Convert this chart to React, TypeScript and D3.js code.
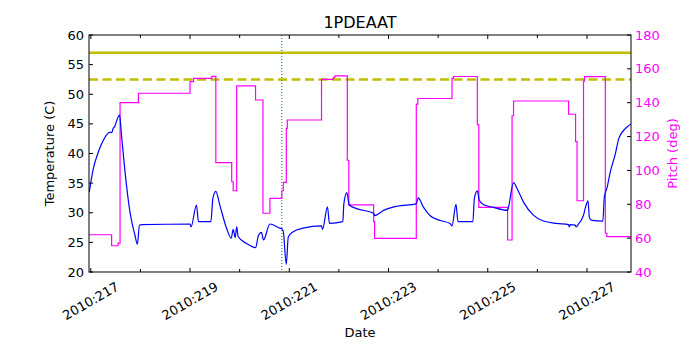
import React from "react";
import * as d3 from "d3";

////////////////////
//// Data

const TITLE = "1PDEAAT";
const TEMP_LIMITS = [57, 52.5]; // planning limit (solid), caution (dashed)
const EVENT_DAY = 220.85;

const X_TICK_DAYS = [217, 218, 219, 220, 221, 222, 223, 224, 225, 226, 227];
const TEMP_TICKS = [20, 25, 30, 35, 40, 45, 50, 55, 60];
const PITCH_TICKS = [40, 60, 80, 100, 120, 140, 160, 180];

// 1PDEAAT temperature (C) vs day of year
const tempDays = [
  216.97, 217.05, 217.15, 217.25, 217.39, 217.42, 217.45, 217.49, 217.52, 217.58,
  217.62, 217.69, 217.79, 217.89, 217.94, 217.98, 218.03, 219.0, 219.02, 219.13,
  219.17, 219.42, 219.46, 219.52, 219.6, 219.74, 219.83, 219.87, 219.91, 219.94,
  219.97, 220.14, 220.32, 220.38, 220.44, 220.48, 220.61, 220.81, 220.85, 220.88,
  220.94, 220.98, 221.08, 221.28, 221.65, 221.67, 221.77, 221.81, 222.08, 222.1,
  222.16, 222.21, 222.36, 222.7, 222.72, 222.9, 223.17, 223.56, 223.6, 223.7,
  223.84, 224.04, 224.24, 224.28, 224.36, 224.4, 224.7, 224.73, 224.79, 224.83,
  224.91, 225.12, 225.4, 225.42, 225.52, 225.59, 225.72, 225.92, 226.12, 226.39,
  226.63, 226.64, 226.66, 226.76, 226.78, 226.83, 226.9, 226.93, 226.96, 227.02,
  227.05, 227.1, 227.32, 227.35, 227.4, 227.47, 227.57, 227.64, 227.74, 227.84,
  227.887,
];
const tempValues = [
  33.5, 37.4, 40.2, 42.2, 43.6, 43.5, 44.2, 44.7, 45.5, 46.5,
  43.0, 36.9, 30.1, 26.2, 24.7, 27.9, 28.0, 28.1, 27.6, 31.3,
  28.5, 28.5, 32.4, 33.6, 31.3, 27.3, 25.7, 27.2, 25.8, 27.6,
  26.0, 24.8, 24.1, 26.2, 26.7, 25.4, 28.1, 27.4, 27.3, 26.8,
  21.3, 25.9, 26.8, 27.4, 27.8, 27.2, 31.0, 28.2, 28.5, 31.5,
  33.4, 31.3, 30.7, 29.9, 29.5, 30.4, 31.1, 31.5, 32.5, 31.0,
  29.5, 28.7, 28.2, 27.8, 31.4, 28.5, 28.5, 32.4, 33.7, 32.1,
  31.4, 30.9, 30.4, 31.0, 35.1, 34.1, 31.8, 29.6, 28.6, 28.2,
  28.0, 27.6, 28.0, 27.9, 27.6, 28.1, 29.0, 29.6, 30.6, 32.0,
  29.1, 28.7, 28.6, 32.7, 34.1, 36.9, 39.9, 42.5, 43.9, 44.7,
  45.0,
];

// pitch (deg), held until the next change
const pitchDays = [
  216.964, 217.42, 217.55, 217.59, 217.96, 219.0, 219.07, 219.44, 219.52, 219.84,
  219.87, 219.94, 220.32, 220.47, 220.61, 220.85, 220.88, 220.94, 220.96, 221.65,
  221.89, 221.92, 222.17, 222.2, 222.7, 222.72, 223.56, 223.59, 224.28, 224.31,
  224.79, 224.82, 225.4, 225.49, 225.52, 226.63, 226.77, 226.8, 226.93, 226.95,
  227.37, 227.4, 227.887,
];
const pitchValues = [
  62, 55.5, 57, 140, 145.6, 152.4, 154.4, 155.6, 104.6, 93.3,
  88, 150, 141.6, 74.7, 83.5, 88, 93, 124.9, 129.8, 153.8,
  155, 155.8, 106, 79.6, 69.7, 59.9, 139.2, 142.5, 154.4, 155.5,
  127, 78.2, 58.9, 132.3, 141, 133.2, 117, 82.1, 152.8, 155.4,
  62.9, 60.9, 60.9,
];

////////////////////
//// Chart

const W = 700;
const H = 350;
const plot = { left: 89, right: 631, top: 35, bottom: 272 };
const FONT = "DejaVu Sans, sans-serif";

export default function App() {
  const x = d3.scaleLinear().domain([216.964, 227.887]).range([plot.left, plot.right]);
  const yT = d3.scaleLinear().domain([20, 60]).range([plot.bottom, plot.top]);
  const yP = d3.scaleLinear().domain([40, 180]).range([plot.bottom, plot.top]);

  const tempLine = d3.line<number>()
    .x((d, i) => x(tempDays[i]))
    .y(d => yT(d))
    .curve(d3.curveMonotoneX);

  const pitchLine = d3.line<number>()
    .x((d, i) => x(pitchDays[i]))
    .y(d => yP(d))
    .curve(d3.curveStepAfter);

  const fmtDay = (d: number) => `2010:${d3.format("03d")(d)}`;
  const cx = (plot.left + plot.right) / 2;
  const cy = (plot.top + plot.bottom) / 2;

  return (
    <svg width={W} height={H} style={{ position: "absolute", left: 0, top: 0, background: "#fff" }} fontFamily={FONT}>
      <rect x={0} y={0} width={W} height={H} fill="#fff" />
      <defs>
        <clipPath id="plotclip">
          <rect x={plot.left} y={plot.top} width={plot.right - plot.left} height={plot.bottom - plot.top} />
        </clipPath>
      </defs>

      <g clipPath="url(#plotclip)">
        {TEMP_LIMITS.map((t, i) => (
          <line key={t} x1={plot.left} x2={plot.right} y1={yT(t)} y2={yT(t)}
            stroke="#bfbf00" strokeWidth={2.5} strokeDasharray={i === 1 ? "9,4.5" : undefined} />
        ))}
        <line x1={x(EVENT_DAY)} x2={x(EVENT_DAY)} y1={plot.top} y2={plot.bottom}
          stroke="#008000" strokeWidth={1} strokeDasharray="1,2" />
        <path d={pitchLine(pitchValues) || ""} fill="none" stroke="#ff00ff" strokeWidth={1.2} />
        <path d={tempLine(tempValues) || ""} fill="none" stroke="#0000ff" strokeWidth={1.2} />
      </g>

      <rect x={plot.left} y={plot.top} width={plot.right - plot.left} height={plot.bottom - plot.top}
        fill="none" stroke="#000" strokeWidth={1} />

      {/* x ticks, inward on top and bottom */}
      {X_TICK_DAYS.map(d => {
        const major = d % 2 === 1;
        const len = major ? 4 : 3;
        return (
          <g key={d}>
            <line x1={x(d)} x2={x(d)} y1={plot.bottom} y2={plot.bottom - len} stroke="#000" />
            <line x1={x(d)} x2={x(d)} y1={plot.top} y2={plot.top + len} stroke="#000" />
            {major && (
              <text transform={`translate(${x(d)},${plot.bottom + 29}) rotate(-30)`}
                textAnchor="middle" dominantBaseline="central" fontSize={13}>
                {fmtDay(d)}
              </text>
            )}
          </g>
        );
      })}

      {TEMP_TICKS.map(t => (
        <g key={t}>
          <line x1={plot.left} x2={plot.left + 4} y1={yT(t)} y2={yT(t)} stroke="#000" />
          <text x={plot.left - 5} y={yT(t)} textAnchor="end" dominantBaseline="central" fontSize={13}>{t}</text>
        </g>
      ))}

      {PITCH_TICKS.map(p => (
        <g key={p}>
          <line x1={plot.right} x2={plot.right - 4} y1={yP(p)} y2={yP(p)} stroke="#000" />
          <text x={plot.right + 4} y={yP(p)} textAnchor="start" dominantBaseline="central" fontSize={13} fill="#ff00ff">{p}</text>
        </g>
      ))}

      <text x={cx} y={28} textAnchor="middle" fontSize={16}>{TITLE}</text>
      <text x={cx} y={337} textAnchor="middle" fontSize={13}>Date</text>
      <text transform={`translate(54,${cy}) rotate(-90)`} textAnchor="middle" fontSize={13}>Temperature (C)</text>
      <text transform={`translate(677,${cy}) rotate(-90)`} textAnchor="middle" fontSize={13} fill="#ff00ff">Pitch (deg)</text>
    </svg>
  );
}
